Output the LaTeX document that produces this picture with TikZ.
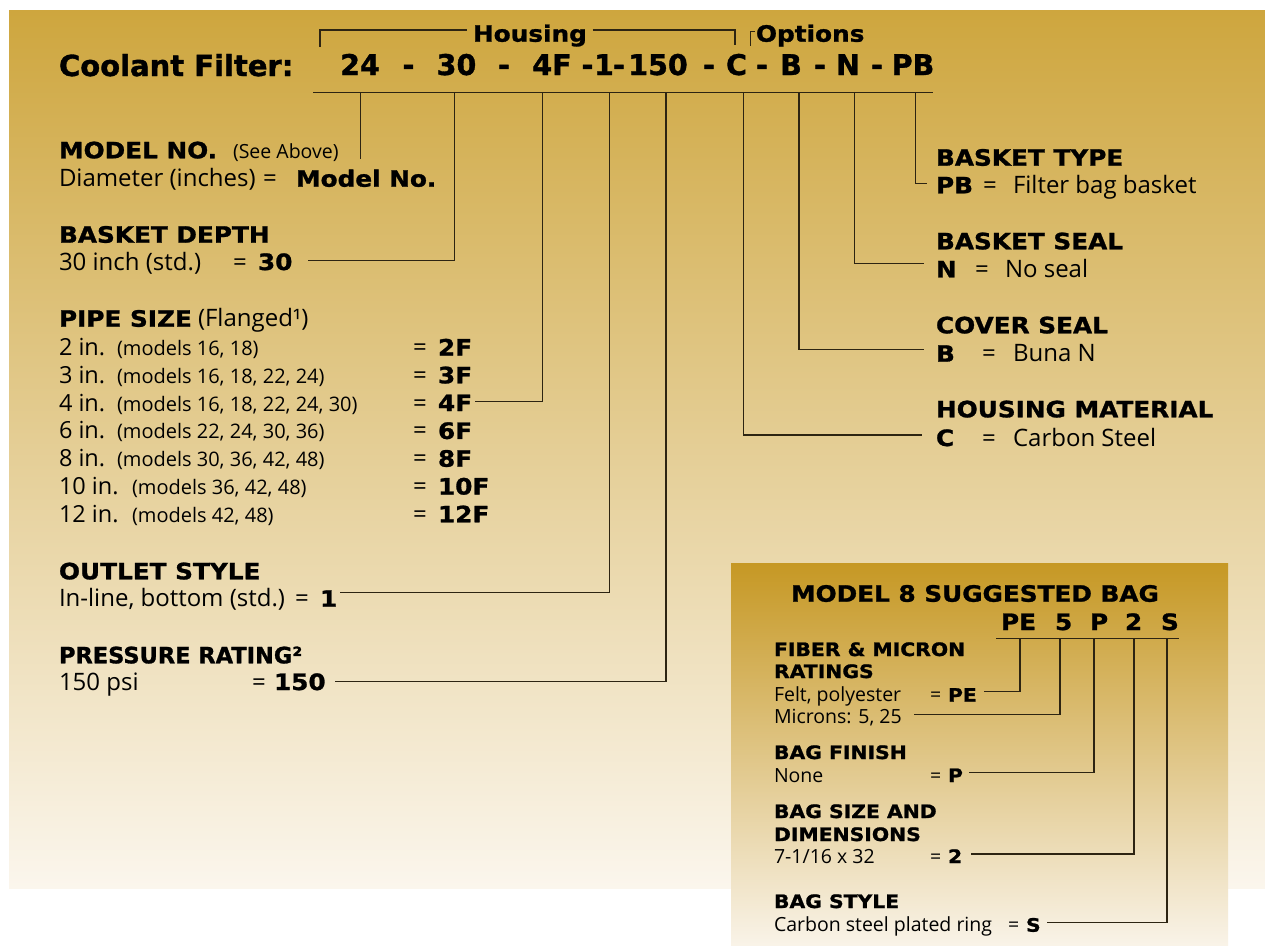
\documentclass[tikz,border=0pt]{standalone}
\usepackage{fontspec}
\setmainfont{Open Sans}
\newfontfamily\hbf{DejaVu Sans}[BoldFeatures={FakeBold=1.2}]
\newfontfamily\hbx{DejaVu Sans}[FakeStretch=1.1,BoldFeatures={FakeBold=1.2}]
\definecolor{gTop}{RGB}{206,166,62}
\definecolor{gMid}{RGB}{226,196,128}
\definecolor{gBot}{RGB}{251,246,237}
\definecolor{bTop}{RGB}{198,152,36}
\definecolor{bMid}{RGB}{224,190,115}
\definecolor{bBot}{RGB}{249,243,232}
\definecolor{lineC}{RGB}{45,36,18}
\begin{document}
\begin{tikzpicture}[x=1pt,y=-1pt,
  every node/.style={inner sep=0pt, outer sep=0pt, anchor=base west, text=black},
  hd/.style={font=\hbx\bfseries\fontsize{22.5}{26}\selectfont},
  hdn/.style={font=\hbf\bfseries\fontsize{22.5}{26}\selectfont},
  lt/.style={font=\fontsize{24}{28}\selectfont},
  ltb/.style={font=\fontsize{23.5}{28}\selectfont},
  sm/.style={font=\fontsize{20}{24}\selectfont},
  code/.style={font=\hbf\bfseries\fontsize{28.5}{32}\selectfont, anchor=base},
  bh/.style={font=\hbx\bfseries\fontsize{18.5}{22}\selectfont},
  bl/.style={font=\fontsize{19.5}{23}\selectfont},
  ln/.style={line width=1.3pt, draw=lineC}]
\useasboundingbox (0,0) rectangle (1265,945);
\fill[white] (0,0) rectangle (1265,945);
% backgrounds
\shade[top color=gTop, middle color=gMid, bottom color=gBot] (9,10) rectangle (1265,888);
\shade[top color=bTop, middle color=bMid, bottom color=bBot] (731,563) rectangle (1228,945);

% ---------- header ----------
\node[font=\hbf\bfseries\fontsize{29}{32}\selectfont] (title) at (59,76) {Coolant Filter:};
\node[code] (c24) at (360,75) {24};
\node[code] (d1) at (408.5,75) {-};
\node[code] (c30) at (456.5,75) {30};
\node[code] (d2) at (504,75) {-};
\node[code] (c4F) at (552,75) {4F};
\node[code] (d3) at (587.5,75) {-};
\node[code] (c1) at (604,75) {1};
\node[code] (d4) at (619,75) {-};
\node[code] (c150) at (658,75) {150};
\node[code] (d5) at (709,75) {-};
\node[code] (cC) at (736.5,75) {C};
\node[code] (d6) at (762,75) {-};
\node[code] (cB) at (791,75) {B};
\node[code] (d7) at (820,75) {-};
\node[code] (cN) at (848,75) {N};
\node[code] (d8) at (877,75) {-};
\node[code] (cPB) at (913,75) {PB};

\node[hd] (housing) at (473,41.7) {Housing};
\node[hd] (options) at (756,41.7) {Options};
\draw[ln] (320,46.7) |- (466.7,30);
\draw[ln] (592.7,30) -| (735,45);
\draw[ln] (750.7,45.7) |- (755,31.7);

% underline and tick points
\coordinate (ulL) at (313,92.7);
\coordinate (ulR) at (933,92.7);
\draw[ln] (ulL) -- (ulR);
\coordinate (t24) at (360.7,92.7);
\coordinate (t30) at (454.5,92.7);
\coordinate (t4F) at (542.3,92.7);
\coordinate (t1) at (609.3,92.7);
\coordinate (t150) at (666,92.7);
\coordinate (tC) at (743.3,92.7);
\coordinate (tB) at (799,92.7);
\coordinate (tN) at (854.5,92.7);
\coordinate (tPB) at (915.7,92.7);

% ---------- left column ----------
\node[hd] (mh) at (59,158.3) {MODEL NO.};
\node[font=\fontsize{19.5}{23}\selectfont] (see) at (233,158.3) {(See Above)};
\node[lt] (dia) at (59,186.7) {Diameter (inches)};
\node[lt] (eq0) at (263,186.7) {=};
\node[hd] (mno) at (296,186.7) {Model No.};
\coordinate (e24) at (360.7,159);
\draw[ln] (t24) -- (e24);

\node[hd] (bd) at (59,242.7) {BASKET DEPTH};
\node[lt] (bdl) at (59,270) {30 inch (std.)};
\node[lt] (eq1) at (233,270) {=};
\node[hd] (v30) at (258,270) {30};
\coordinate (e30) at (308,260.7);
\draw[ln] (t30) |- (e30);

\node[hd] (ps) at (59,326.7) {PIPE SIZE};
\node[lt] (fl) at (198,326.7) {(Flanged¹)};
\foreach \i/\sz/\mx/\mod/\val in {0/2/117/{16, 18}/2F, 1/3/117/{16, 18, 22, 24}/3F, 2/4/117/{16, 18, 22, 24, 30}/4F, 3/6/117/{22, 24, 30, 36}/6F, 4/8/117/{30, 36, 42, 48}/8F, 5/10/132/{36, 42, 48}/10F, 6/12/132/{42, 48}/12F}{
  \node[ltb] (ps\i a) at (59,355.5+27.8*\i) {\sz\ in.};
  \node[sm] (ps\i b) at (\mx,355.5+27.8*\i) {(models \mod)};
  \node[lt] (ps\i c) at (413,355.5+27.8*\i) {=};
  \node[hd] (ps\i v) at (438,355.5+27.8*\i) {\val};
}
\coordinate (e4F) at (475,401.7);
\draw[ln] (t4F) |- (e4F);

\node[hd] (os) at (59,579.3) {OUTLET STYLE};
\node[lt] (osl) at (59,606.7) {In-line, bottom (std.)};
\node[lt] (eq2) at (295,606.7) {=};
\node[hd] (v1) at (320,606.7) {1};
\coordinate (e1) at (340,592.3);
\draw[ln] (t1) |- (e1);

\node[hdn] (pr) at (59,663.3) {PRESSURE RATING²};
\node[lt] (prl) at (59,690) {150 psi};
\node[lt] (eq3) at (252,690) {=};
\node[hd] (v150) at (274,690) {150};
\coordinate (e150) at (334.6,681.7);
\draw[ln] (t150) |- (e150);

% ---------- right column ----------
\node[hd] (bt) at (936,165.7) {BASKET TYPE};
\node[hd] (vPB) at (936,193.3) {PB};
\node[lt] (eq4) at (983,193.3) {=};
\node[lt] (btl) at (1013,193.3) {Filter bag basket};
\coordinate (ePB) at (927,183.3);
\draw[ln] (tPB) |- (ePB);

\node[hd] (bs) at (936,249.3) {BASKET SEAL};
\node[hd] (vN) at (936,277.3) {N};
\node[lt] (eq5) at (975,277.3) {=};
\node[lt] (bsl) at (1005,277.3) {No seal};
\coordinate (eN) at (924,263.3);
\draw[ln] (tN) |- (eN);

\node[hd] (cs) at (936,333.3) {COVER SEAL};
\node[hd] (vB) at (936,361.7) {B};
\node[lt] (eq6) at (982,361.7) {=};
\node[lt] (csl) at (1013,361.7) {Buna N};
\coordinate (eB) at (924,349.3);
\draw[ln] (tB) |- (eB);

\node[hd] (hm) at (936,417.3) {HOUSING MATERIAL};
\node[hd] (vC) at (936,446) {C};
\node[lt] (eq7) at (982,446) {=};
\node[lt] (hml) at (1013,446) {Carbon Steel};
\coordinate (eC) at (922,435);
\draw[ln] (tC) |- (eC);

% ---------- bag box ----------
\node[hd] (m8) at (791,601.7) {MODEL 8 SUGGESTED BAG};
\node[hd] (bPE) at (1001,630) {PE};
\node[hd] (b5) at (1055,630) {5};
\node[hd] (bP) at (1090,630) {P};
\node[hd] (b2) at (1125,630) {2};
\node[hd] (bS) at (1161,630) {S};
\coordinate (bulL) at (996,638.3);
\coordinate (bulR) at (1179,638.3);
\draw[ln] (bulL) -- (bulR);
\coordinate (sPE) at (1020,638.3);
\coordinate (s5) at (1060,638.3);
\coordinate (sP) at (1094,638.3);
\coordinate (s2) at (1134,638.3);
\coordinate (sS) at (1167,638.3);

\node[bh] (fm1) at (774,656) {FIBER \& MICRON};
\node[bh] (fm2) at (774,678) {RATINGS};
\node[bl] (felt) at (774,701.7) {Felt, polyester};
\node[bl] (eq8) at (930,701.7) {=};
\node[bh] (vPE) at (948,701.7) {PE};
\node[bl] (mic) at (774,723) {Microns: 5, 25};
\coordinate (fPE) at (984,691.7);
\coordinate (f5) at (914,714.3);
\draw[ln] (sPE) |- (fPE);
\draw[ln] (s5) |- (f5);

\node[bh] (bf) at (774,759) {BAG FINISH};
\node[bl] (none) at (774,782) {None};
\node[bl] (eq9) at (930,782) {=};
\node[bh] (vP) at (948,782) {P};
\coordinate (fP) at (969,772.7);
\draw[ln] (sP) |- (fP);

\node[bh] (bsz1) at (774,818) {BAG SIZE AND};
\node[bh] (bsz2) at (774,841) {DIMENSIONS};
\node[bl] (dim) at (774,863) {7-1/16 x 32};
\node[bl] (eq10) at (930,863) {=};
\node[bh] (v2) at (948,863) {2};
\coordinate (f2) at (971,854);
\draw[ln] (s2) |- (f2);

\node[bh] (bsty) at (774,908) {BAG STYLE};
\node[bl] (ring) at (774,931.7) {Carbon steel plated ring};
\node[bl] (eq11) at (1008,931.7) {=};
\node[bh] (vS) at (1026,931.7) {S};
\coordinate (fS) at (1047,922.3);
\draw[ln] (sS) |- (fS);
\end{tikzpicture}
\end{document}
